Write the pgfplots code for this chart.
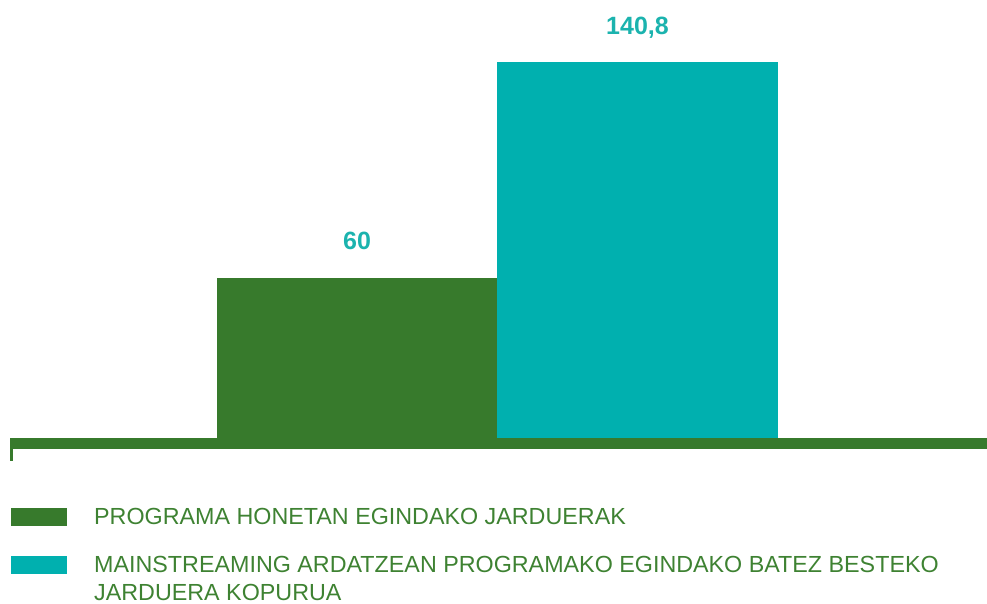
\documentclass[border=0pt]{standalone}
\usepackage{fontspec}
\setmainfont{Liberation Sans}
\usepackage{pgfplots}
\pgfplotsset{compat=1.18}
\definecolor{barGreen}{HTML}{377A2C}
\definecolor{barTeal}{HTML}{00B0AF}
\definecolor{lblTeal}{HTML}{1BB3AE}
\definecolor{txtGreen}{HTML}{3E8232}

\begin{document}
\begin{tikzpicture}
\begin{axis}[
  scale only axis, width=987pt, height=603pt,
  xmin=0, xmax=987, ymin=-61.8, ymax=164.04,
  hide axis, clip=false,
  /pgf/number format/assume math mode=true,
  /pgf/number format/use comma,
  legend cell align=left,
  legend style={draw=none, fill=none, inner sep=0pt,
    at={(axis cs:11,-26.1)}, anchor=north west,
    font=\fontsize{23.3}{28}\selectfont, text=txtGreen,
    row sep=29.5pt, column sep=27pt,
    cells={anchor=base west}, nodes={inner sep=0pt}},
]
% bars
\addplot[ybar, bar width=280.5, bar shift=0pt, fill=barGreen, draw=none,
  nodes near coords,
  nodes near coords style={font=\fontsize{25}{30}\selectfont\bfseries, text=lblTeal, anchor=base, yshift=28pt},
  legend image code/.code={\fill[barGreen] (0pt,-1.2pt) rectangle (56pt,16.8pt);}]
  coordinates {(357,60)};
\addlegendentry{PROGRAMA HONETAN EGINDAKO JARDUERAK}
\addplot[ybar, bar width=280.5, bar shift=0pt, fill=barTeal, draw=none,
  nodes near coords,
  nodes near coords style={font=\fontsize{25}{30}\selectfont\bfseries, text=lblTeal, anchor=base, yshift=28pt},
  legend image code/.code={\fill[barTeal] (0pt,-1.2pt) rectangle (56pt,16.8pt);}]
  coordinates {(637.5,140.8)};
\addlegendentry{\vtop{\hbox{MAINSTREAMING ARDATZEAN PROGRAMAKO EGINDAKO BATEZ BESTEKO}\hbox{JARDUERA KOPURUA}}}
% baseline and left tick
\addplot[forget plot, barGreen, line width=11pt] coordinates {(10,-2.06) (987,-2.06)};
\addplot[forget plot, barGreen, line width=3pt] coordinates {(11.5,-2.06) (11.5,-8.5)};
\coordinate (bl) at (rel axis cs:0,0);
\coordinate (tr) at (rel axis cs:1,1);
\end{axis}
\pgfresetboundingbox
\useasboundingbox (bl) rectangle (tr);
\end{tikzpicture}
\end{document}
